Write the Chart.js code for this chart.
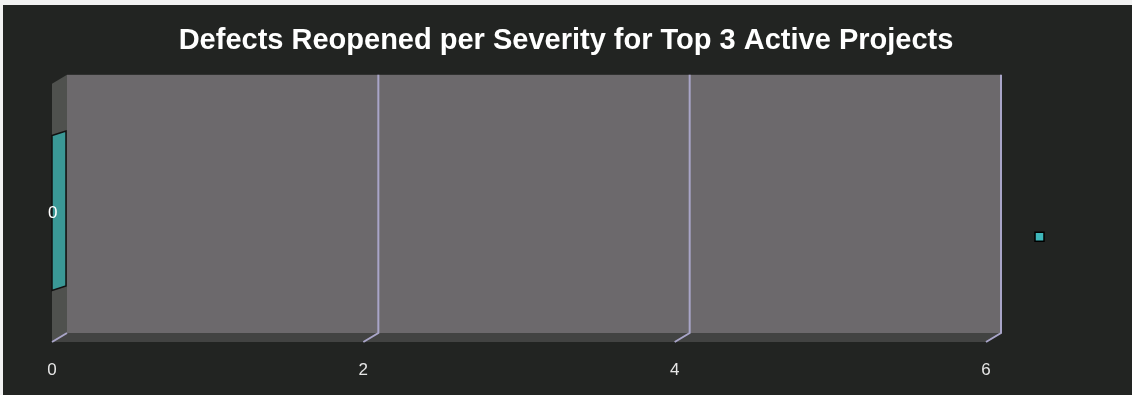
<!DOCTYPE html>
<html>
<head>
<meta charset="utf-8">
<script src="https://cdn.jsdelivr.net/npm/chart.js@4.4.1/dist/chart.umd.min.js"></script>
<style>
  html, body { margin: 0; padding: 0; background: #222422; }
  #wrap { width: 1132px; height: 395px; }
</style>
</head>
<body>
<div id="wrap"><canvas id="chart"></canvas></div>
<script>
const chartTitle = 'Defects Reopened per Severity for Top 3 Active Projects';
const categories = ['0'];
const reopened = [0];
const xTicks = [0, 2, 4, 6];

// 3D depth offset of the back wall
const depth = { dx: 15, dy: -9 };

const box3d = {
  id: 'box3d',
  beforeDraw(chart) {
    const { ctx, chartArea: a, scales: { x } } = chart;
    const { dx, dy } = depth;
    ctx.save();
    // frame + background
    ctx.fillStyle = '#f2f2f2';
    ctx.fillRect(0, 0, chart.width, chart.height);
    ctx.fillStyle = '#222422';
    ctx.fillRect(3, 5, chart.width - 3, chart.height - 5);

    // back wall
    ctx.fillStyle = '#6c696c';
    ctx.fillRect(a.left + dx, a.top + dy, a.right - a.left, a.bottom - a.top);

    // left wall
    ctx.fillStyle = '#4f514e';
    ctx.beginPath();
    ctx.moveTo(a.left, a.top);
    ctx.lineTo(a.left + dx, a.top + dy);
    ctx.lineTo(a.left + dx, a.bottom + dy);
    ctx.lineTo(a.left, a.bottom);
    ctx.closePath();
    ctx.fill();

    // floor
    ctx.fillStyle = '#424342';
    ctx.beginPath();
    ctx.moveTo(a.left, a.bottom);
    ctx.lineTo(a.left + dx, a.bottom + dy);
    ctx.lineTo(a.right + dx, a.bottom + dy);
    ctx.lineTo(a.right, a.bottom);
    ctx.closePath();
    ctx.fill();

    // grid lines on back wall and floor
    ctx.strokeStyle = '#a9a5c8';
    ctx.lineWidth = 2;
    x.ticks.forEach(t => {
      const px = x.getPixelForValue(t.value);
      ctx.beginPath();
      if (t.value > 0) {
        ctx.moveTo(px + dx, a.top + dy);
        ctx.lineTo(px + dx, a.bottom + dy);
      } else {
        ctx.moveTo(px + dx, a.bottom + dy);
      }
      ctx.lineTo(px, a.bottom);
      ctx.stroke();
    });

    // bar end faces
    const meta = chart.getDatasetMeta(0);
    meta.data.forEach(bar => {
      const top = bar.y - bar.height / 2;
      const bottom = bar.y + bar.height / 2;
      const bdx = dx - 1, bdy = -4.5;
      ctx.fillStyle = '#3a9896';
      ctx.strokeStyle = '#111';
      ctx.lineWidth = 1.5;
      ctx.beginPath();
      ctx.moveTo(bar.x, top);
      ctx.lineTo(bar.x + bdx, top + bdy);
      ctx.lineTo(bar.x + bdx, bottom + bdy);
      ctx.lineTo(bar.x, bottom);
      ctx.closePath();
      ctx.fill();
      ctx.stroke();
    });
    ctx.restore();
  }
};

new Chart(document.getElementById('chart'), {
  type: 'bar',
  data: {
    labels: categories,
    datasets: [{
      label: '',
      data: reopened,
      backgroundColor: '#3fb7ba',
      borderColor: '#111',
      borderWidth: 0,
      barPercentage: 0.6,
      categoryPercentage: 1.0
    }]
  },
  options: {
    indexAxis: 'y',
    responsive: true,
    maintainAspectRatio: false,
    animation: false,
    layout: { padding: 0 },
    plugins: {
      title: {
        display: true,
        text: chartTitle,
        color: '#ffffff',
        font: { family: 'Liberation Sans', size: 29, weight: 'bold' },
        padding: { top: 24, bottom: 25 }
      },
      legend: {
        position: 'right',
        labels: {
          boxWidth: 9,
          boxHeight: 9,
          padding: 49,
          color: '#ffffff',
          font: { size: 156 },
          generateLabels(chart) {
            return chart.data.datasets.map((ds, i) => ({
              text: ds.label,
              fillStyle: ds.backgroundColor,
              strokeStyle: '#000',
              lineWidth: 1.5,
              datasetIndex: i
            }));
          }
        },
        title: { display: true, text: '', padding: 32 }
      },
      tooltip: { enabled: false }
    },
    scales: {
      x: {
        min: 0,
        max: 6,
        afterBuildTicks(scale) { scale.ticks = xTicks.map(v => ({ value: v })); },
        afterFit(scale) { scale.height = 53; },
        grid: { display: false, drawTicks: false },
        border: { display: false },
        ticks: {
          color: '#e6e6e6',
          padding: 18,
          font: { family: 'Liberation Sans', size: 17 }
        }
      },
      y: {
        afterFit(scale) { scale.width = 52; },
        grid: { display: false, drawTicks: false },
        border: { display: false },
        ticks: {
          mirror: true,
          padding: -4,
          color: '#ffffff',
          font: { family: 'Liberation Sans', size: 17 }
        }
      }
    }
  },
  plugins: [box3d]
});
</script>
</body>
</html>
